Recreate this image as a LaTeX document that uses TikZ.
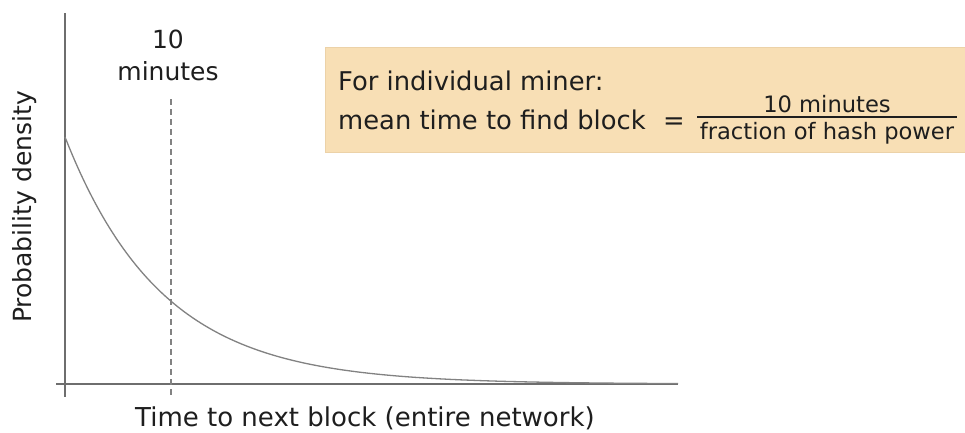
\documentclass[tikz,border=0pt]{standalone}
\usepackage{fontspec}
\setmainfont{DejaVu Sans}
\definecolor{axisgray}{RGB}{110,110,110}
\definecolor{curvegray}{RGB}{130,130,130}
\definecolor{boxfill}{RGB}{248,223,181}
\definecolor{boxedge}{RGB}{236,210,168}
\definecolor{ink}{RGB}{30,30,30}
\begin{document}
\begin{tikzpicture}[x=1pt,y=-1pt,
  axis/.style={draw=axisgray,line width=1.6pt},
  curve/.style={draw=curvegray,line width=1.3pt},
  guide/.style={draw=curvegray,line width=1.5pt,dash pattern=on 6pt off 4pt},
  lbl/.style={text=ink,inner sep=0pt,font=\fontsize{25}{30}\selectfont},
  boxtxt/.style={text=ink,inner sep=0pt,anchor=base west,font=\fontsize{25.8}{30}\selectfont},
  fractxt/.style={text=ink,inner sep=0pt,anchor=base,font=\fontsize{22.6}{27}\selectfont},
  note/.style={fill=boxfill,draw=boxedge,line width=0.8pt}]
\useasboundingbox (0,0) rectangle (965,432);
\fill[white] (0,0) rectangle (965,432);

% axes
\coordinate (ytop) at (65,13);
\coordinate (ybot) at (65,397);
\coordinate (xl) at (56,384);
\coordinate (xr) at (678,384);
\draw[axis] (ytop) -- (ybot);
\draw[axis] (xl) -- (xr);

% exponential density of block times
\draw[curve] plot[domain=65:678,samples=160,smooth] (\x,{384-247*exp(-(\x-65)/97)});

% mean block time marker
\coordinate (mtop) at (171,99);
\coordinate (mbot) at (171,397);
\draw[guide] (mtop) -- (mbot);
\node[lbl,anchor=base] (ten) at (168,48) {10};
\node[lbl,anchor=base] (mins) at (168,80) {minutes};

% axis titles
\node[lbl,rotate=90] (ylab) at (25,207) {Probability density};
\node[lbl,font=\fontsize{26}{30}\selectfont] (xlab) at (365,418) {Time to next block (entire network)};

% note box
\node[note,minimum width=641pt,minimum height=105pt,anchor=north west,inner sep=0pt] (box) at (324.5,47) {};
\node[boxtxt] (head) at (338,90) {For individual miner:};
\node[boxtxt] (mean) at (338,129) {mean time to find block};
\node[boxtxt] (eq) at (663,129) {=};
\node[fractxt] (num) at (827,112) {10 minutes};
\node[fractxt] (den) at (827,139) {fraction of hash power};
\coordinate (barl) at (697,117);
\coordinate (barr) at (957,117);
\draw[draw=ink,line width=1.2pt] (barl) -- (barr);
\end{tikzpicture}
\end{document}
